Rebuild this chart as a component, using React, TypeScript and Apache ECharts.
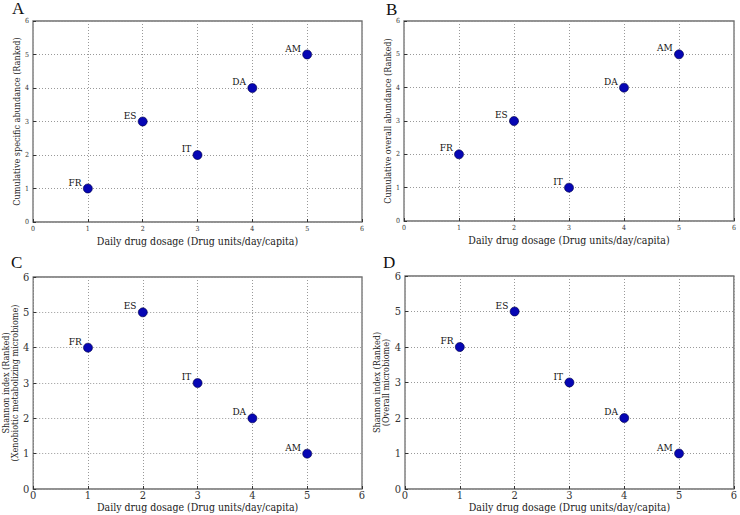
import React, { useEffect, useRef } from "react";
import * as echarts from "echarts";

const countries = ["FR", "ES", "IT", "DA", "AM"];
const dosage = [1, 2, 3, 4, 5];
const rankA = [1, 3, 2, 4, 5];
const rankB = [2, 3, 1, 4, 5];
const rankC = [4, 5, 3, 2, 1];
const rankD = [4, 5, 3, 2, 1];
const panelLetters = ["A", "B", "C", "D"];
const xAxisName = "Daily drug dosage (Drug units/day/capita)";
const yAxisNames = [
  "Cumulative specific abundance (Ranked)",
  "Cumulative overall abundance (Ranked)",
  "Shannon index (Ranked)\n(Xenobiotic metabolizing microbiome)",
  "Shannon index (Ranked)\n(Overall microbiome)",
];
const ranks = [rankA, rankB, rankC, rankD];

const SERIF = "'DejaVu Serif Condensed', 'DejaVu Serif', serif";

const grids = [
  { left: 33, top: 21, width: 329, height: 201 },
  { left: 404, top: 21, width: 330, height: 200 },
  { left: 32, top: 277, width: 330, height: 212 },
  { left: 405, top: 276, width: 331, height: 213 },
];
const letterPos = [
  [12, 0],
  [386, 1],
  [11, 254],
  [383, 254],
];

export default function App() {
  const ref = useRef<HTMLDivElement>(null);
  useEffect(() => {
    if (!ref.current) return;
    const chart = echarts.init(ref.current, null, { renderer: "svg" });
    const small = [true, true, false, false];
    const option: any = {
      animation: false,
      backgroundColor: "#ffffff",
      grid: grids.map((g) => ({
        ...g,
        show: true,
        borderColor: "#6e6e6e",
        borderWidth: 1.3,
        backgroundColor: "transparent",
      })),
      xAxis: grids.map((_, i) => ({
        type: "value",
        gridIndex: i,
        min: 0,
        max: 6,
        interval: 1,
        name: xAxisName,
        nameLocation: "middle",
        nameGap: small[i] ? 13 : 11,
        nameTextStyle: { fontFamily: SERIF, fontSize: 10.5, color: "#222" },
        axisLine: { show: false },
        axisTick: { show: true, inside: true, length: 3, lineStyle: { color: "#333" } },
        axisLabel: {
          fontFamily: SERIF,
          fontSize: small[i] ? 7 : 11,
          color: "#333",
          margin: small[i] ? 3 : 1,
        },
        splitLine: { show: true, lineStyle: { type: [1, 2], color: "#999", width: 1 } },
      })),
      yAxis: grids.map((_, i) => ({
        type: "value",
        gridIndex: i,
        min: 0,
        max: 6,
        interval: 1,
        name: yAxisNames[i],
        nameLocation: "middle",
        nameGap: small[i] ? 12 : 7,
        nameTextStyle: { fontFamily: SERIF, fontSize: 9, color: "#222", lineHeight: 9 },
        axisLine: { show: false },
        axisTick: { show: true, inside: true, length: 3, lineStyle: { color: "#333" } },
        axisLabel: {
          fontFamily: SERIF,
          fontSize: small[i] ? 7 : 11,
          color: "#333",
          margin: 4,
        },
        splitLine: { show: true, lineStyle: { type: [1, 2], color: "#999", width: 1 } },
      })),
      series: ranks.map((r, i) => ({
        type: "scatter",
        xAxisIndex: i,
        yAxisIndex: i,
        symbolSize: 9,
        itemStyle: { color: "#0606b4", borderColor: "#000040", borderWidth: 0.6, opacity: 1 },
        label: {
          show: true,
          position: "left",
          distance: 1.5,
          offset: [0, -6.5],
          formatter: (p: any) => countries[p.dataIndex],
          fontFamily: SERIF,
          fontSize: 10,
          color: "#111",
        },
        data: dosage.map((x, k) => [x, r[k]]),
      })),
      graphic: panelLetters.map((l, i) => ({
        type: "text",
        left: letterPos[i][0],
        top: letterPos[i][1],
        style: { text: l, fontFamily: "'Liberation Serif', serif", fontSize: 17, fill: "#111" },
      })),
    };
    chart.setOption(option);
    return () => chart.dispose();
  }, []);
  return (
    <div
      ref={ref}
      style={{ position: "fixed", left: 0, top: 0, width: 740, height: 515 }}
    />
  );
}
